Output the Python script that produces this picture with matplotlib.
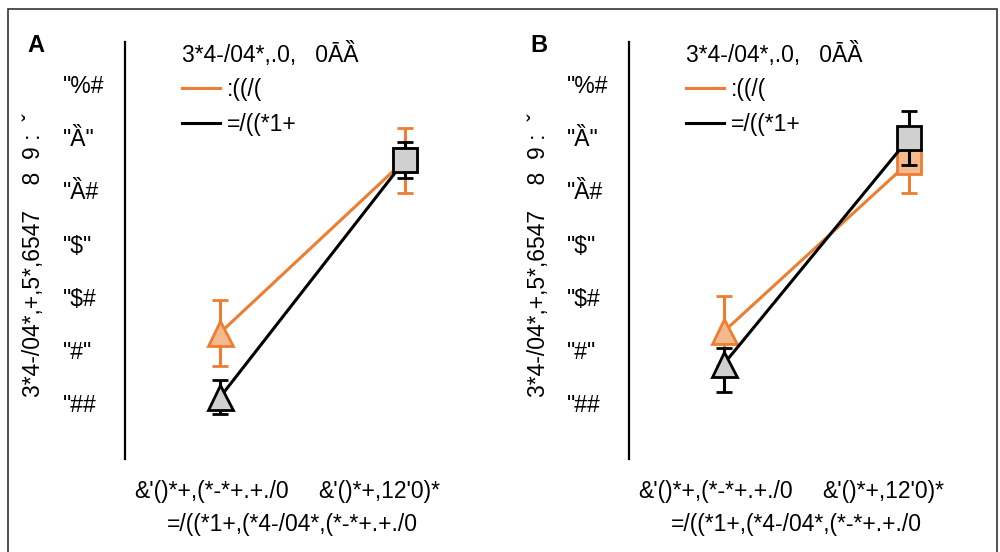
import numpy as np
import matplotlib.pyplot as plt
from matplotlib.lines import Line2D
from matplotlib.patches import Rectangle

plt.rcParams['font.family'] = ['Liberation Sans', 'DejaVu Sans']

# data (y in tick units: "## = 0 ... "%# = 6)
x_pos = [0, 1]
ytick_pos = [6, 5, 4, 3, 2, 1, 0]
ytick_labels = ['"%#', '"Ȁ"', '"Ȁ#', '"$"', '"$#', '"#"', '"##']
xtick_labels = ["&'()*+,(*-*+.+./0", "&'()*+,12'0)*"]
xlabel = "=/((*1+,(*4-/04*,(*-*+.+./0"
ylabel = "3*4-/04*,+,5*,6547    8  9 :  ˇ"
legend_title = "3*4-/04*,.0,   0ĀȀ"
series_names = [":((/(", "=/((*1+"]
panel_names = ["A", "B"]

orange_A = [1.32, 4.57]
orange_A_err = [0.62, 0.61]
black_A = [0.11, 4.57]
black_A_err = [0.32, 0.34]

orange_B = [1.35, 4.53]
orange_B_err = [0.66, 0.58]
black_B = [0.74, 4.98]
black_B_err_lo = [0.53, 0.51]
black_B_err_hi = [0.30, 0.51]

ORANGE = '#ED7D31'
ORANGE_FILL = '#F4B98E'
GRAY_FILL = '#D0D0D0'
FS = 16.5

fig = plt.figure(figsize=(10, 5.52), dpi=100)
fig.patches.append(Rectangle((8 / 1000, -0.1), 0.997 - 8 / 1000, 1.1 - 9 / 552,
                             transform=fig.transFigure, fill=False,
                             edgecolor='#333333', lw=1.2))


def draw_series(ax, y, err, color, fill, z):
    ax.plot(x_pos, y, color=color, lw=2.2, zorder=z)
    markers = ['^', 's']
    for i in range(2):
        ax.errorbar(x_pos[i], y[i], yerr=[[err[0][i]], [err[1][i]]],
                    fmt=markers[i], ms=18 if i == 0 else 17,
                    mfc=fill, mec=color, mew=2, ecolor=color,
                    elinewidth=2.2, capsize=6, capthick=2.5, zorder=z)


panels = [
    (125, orange_A, [orange_A_err, orange_A_err], black_A, [black_A_err, black_A_err]),
    (629, orange_B, [orange_B_err, orange_B_err], black_B, [black_B_err_lo, black_B_err_hi]),
]

for k, (left, oy, oe, by, be) in enumerate(panels):
    ax = fig.add_axes([left / 1000, 1 - 459 / 552, 375 / 1000, (459 - 42) / 552])
    ax.set_xlim(-95 / 185, 280 / 185)
    ax.set_ylim(-1.05, 6.79)
    for s in ['top', 'right', 'bottom']:
        ax.spines[s].set_visible(False)
    ax.spines['left'].set_linewidth(1.6)
    ax.set_xticks([])
    ax.set_yticks(ytick_pos, ytick_labels)
    ax.tick_params(axis='y', length=0, pad=45, labelsize=FS)
    for t in ax.get_yticklabels():
        t.set_ha('left')

    draw_series(ax, oy, oe, ORANGE, ORANGE_FILL, 3)
    draw_series(ax, by, be, 'black', GRAY_FILL, 4)

    # category labels under the panel
    tr = ax.get_xaxis_transform()
    ax.text(-0.043, -0.077, xtick_labels[0], transform=tr, ha='center', va='center', fontsize=FS)
    ax.text(0.86, -0.077, xtick_labels[1], transform=tr, ha='center', va='center', fontsize=FS)
    ax.text(0.39, -0.158, xlabel, transform=tr, ha='center', va='center', fontsize=FS)

    ax.set_ylabel(ylabel, fontsize=FS)
    ax.yaxis.set_label_coords(-0.212, 0.49)

    handles = [Line2D([], [], color=ORANGE, lw=2.2), Line2D([], [], color='black', lw=2.2)]
    ax.legend(handles, series_names, title=legend_title, frameon=False,
              loc='upper left', bbox_to_anchor=((left + 57) / 1000, 1 - 42 / 552),
              bbox_transform=fig.transFigure, fontsize=FS, title_fontsize=FS,
              alignment='left', handlelength=1.66, handletextpad=0.3,
              labelspacing=0.5, borderpad=0, borderaxespad=0)

    fig.text((36 + 503 * k) / 1000, 1 - 45 / 552, panel_names[k], fontsize=17,
             fontweight='bold', ha='center', va='center')

fig.savefig('out.png', dpi=100)
